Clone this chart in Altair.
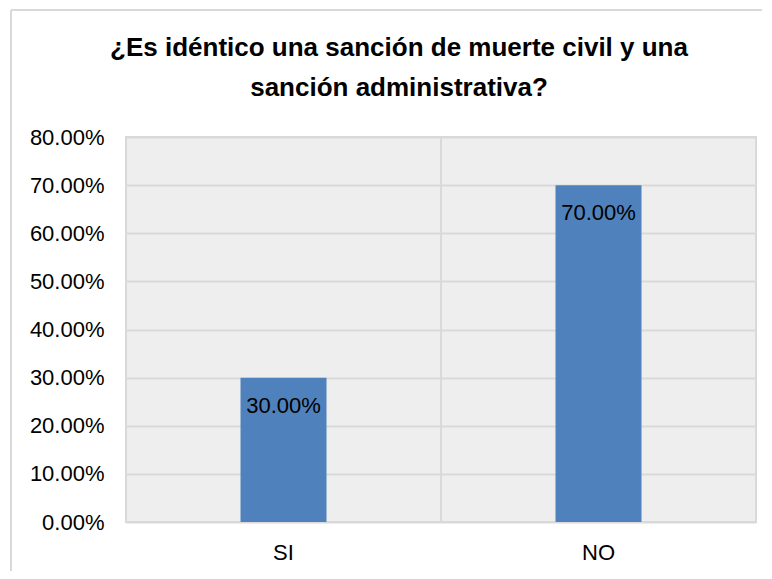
import altair as alt
import pandas as pd

categories = ["SI", "NO"]
values = [0.30, 0.70]
labels = ["30.00%", "70.00%"]
y_ticks = [0, 0.1, 0.2, 0.3, 0.4, 0.5, 0.6, 0.7, 0.8]
title_lines = ["¿Es idéntico una sanción de muerte civil y una", "sanción administrativa?"]

df = pd.DataFrame({"cat": categories, "val": values, "lab": labels})

FONT = "Liberation Sans Narrow, Liberation Sans, Arial, sans-serif"
W, H = 630, 385

x = alt.X("cat:N", sort=categories, title=None,
          scale=alt.Scale(paddingInner=0.727, paddingOuter=0.3635),
          axis=alt.Axis(labelFontSize=22, labelFont=FONT, labelColor="#000000",
                        labelAngle=0, labelPadding=20, ticks=False, domain=False, grid=False))
y = alt.Y("val:Q", title=None,
          scale=alt.Scale(domain=[0, 0.8], nice=False),
          axis=alt.Axis(values=y_ticks, format=".2%", labelFontSize=22, labelFont=FONT,
                        labelColor="#000000", labelPadding=22, ticks=False, domain=False,
                        grid=True, gridColor="#d9d9d9", gridWidth=2))

base = alt.Chart(df)

bars = base.mark_bar(color="#4f81bd").encode(x=x, y=y)
text = base.mark_text(baseline="top", dy=18, fontSize=22, font=FONT, color="#000000").encode(
    x=alt.X("cat:N", sort=categories), y="val:Q", text="lab:N")
vrule = base.mark_rule(color="#d9d9d9", strokeWidth=2).encode(
    x=alt.value(W / 2), y=alt.value(0), y2=alt.value(H))
top_border = base.mark_rule(color="#d9d9d9", strokeWidth=2).encode(
    x=alt.value(-115), x2=alt.value(W + 20), y=alt.value(-127))
left_border = base.mark_rule(color="#d9d9d9", strokeWidth=2).encode(
    x=alt.value(-115), y=alt.value(-127), y2=alt.value(H + 60))

t1 = alt.Chart(pd.DataFrame({"t": [title_lines[0]]})).mark_text(
    fontSize=26, fontWeight="bold", font=FONT, color="#000000", baseline="middle").encode(
    x=alt.value(273), y=alt.value(-89), text="t:N")
t2 = alt.Chart(pd.DataFrame({"t": [title_lines[1]]})).mark_text(
    fontSize=26, fontWeight="bold", font=FONT, color="#000000", baseline="middle").encode(
    x=alt.value(273), y=alt.value(-49), text="t:N")

chart = alt.layer(top_border, left_border, vrule, bars, text, t1, t2).properties(
    width=W, height=H,
    autosize=alt.AutoSizeParams(type="none"),
    padding={"left": 118, "top": 129, "right": 6, "bottom": 49},
).configure_view(fill="#eeeeee", stroke="#d9d9d9", strokeWidth=2)

chart.save("out.html", embed_options={"renderer": "svg", "actions": False})
